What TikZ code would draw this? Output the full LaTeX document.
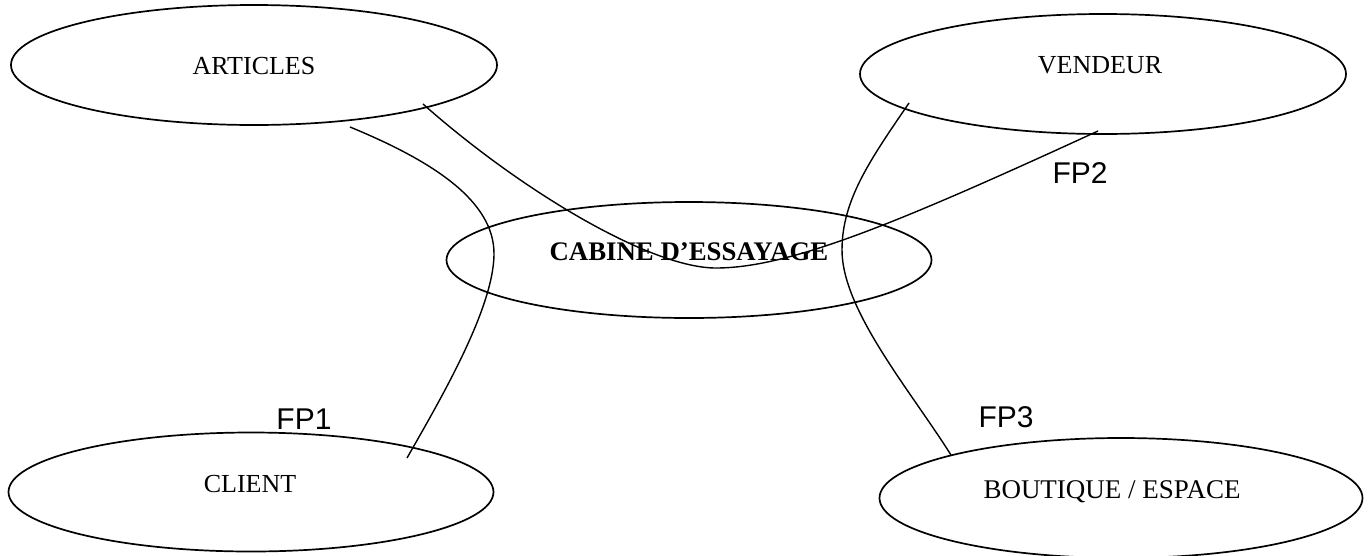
\documentclass[tikz,border=0pt]{standalone}
\usepackage{fontspec}
\setmainfont{Liberation Serif}
\newfontfamily\fpfont{Liberation Sans}
\usetikzlibrary{shapes.geometric}
\begin{document}
\begin{tikzpicture}[x=1pt,y=-1pt,
  ell/.style={draw, ellipse, line width=1.7pt, minimum width=486pt, minimum height=120pt, inner sep=0pt, outer sep=0pt},
  lbl/.style={anchor=base, font=\fontsize{26}{30}\selectfont, inner sep=0pt},
  fp/.style={anchor=base, font=\fpfont\fontsize{30}{34}\selectfont, inner sep=0pt},
  conn/.style={line width=1.4pt}]
\fill[white] (0,0) rectangle (1370,555);
\useasboundingbox (0,0) rectangle (1370,555);
% ellipses
\node[ell] (art) at (254,65) {};
\node[ell] (ven) at (1103,74) {};
\node[ell, minimum height=116pt, minimum width=485pt] (cab) at (689,260) {};
\node[ell, minimum height=119pt, minimum width=485pt] (cli) at (251,492) {};
\node[ell, minimum width=483pt] (bou) at (1121,498) {};
% texts
\node[lbl] (tart) at (254,74) {ARTICLES};
\node[lbl] (tven) at (1100,73) {VENDEUR};
\node[lbl, font=\bfseries\fontsize{26.8}{30}\selectfont] (tcab) at (689,260) {CABINE D’ESSAYAGE};
\node[lbl] (tcli) at (250,492) {CLIENT};
\node[lbl, font=\fontsize{27}{30}\selectfont] (tbou) at (1112,498) {BOUTIQUE / ESPACE};
% connector end points
\coordinate (fp1a) at (350,127);
\coordinate (fp1b) at (407,458);
\coordinate (fp2a) at (423,104);
\coordinate (fp2b) at (1098,131);
\coordinate (fp3a) at (909,103);
\coordinate (fp3b) at (951,455);
% connectors
\draw[conn] (fp1a) .. controls (430,160) and (495,200) .. (494,255)
                   .. controls (493,310) and (440,400) .. (fp1b);
\draw[conn] (fp2a) .. controls (520,190) and (650,268) .. (716,268)
                   .. controls (790,268) and (900,222) .. (fp2b);
\draw[conn] (fp3a) .. controls (870,160) and (842,200) .. (842,250)
                   .. controls (842,310) and (910,390) .. (fp3b);
% labels
\node[fp] (l1) at (304,429) {FP1};
\node[fp] (l2) at (1080,183) {FP2};
\node[fp] (l3) at (1006,427) {FP3};
\end{tikzpicture}
\end{document}
